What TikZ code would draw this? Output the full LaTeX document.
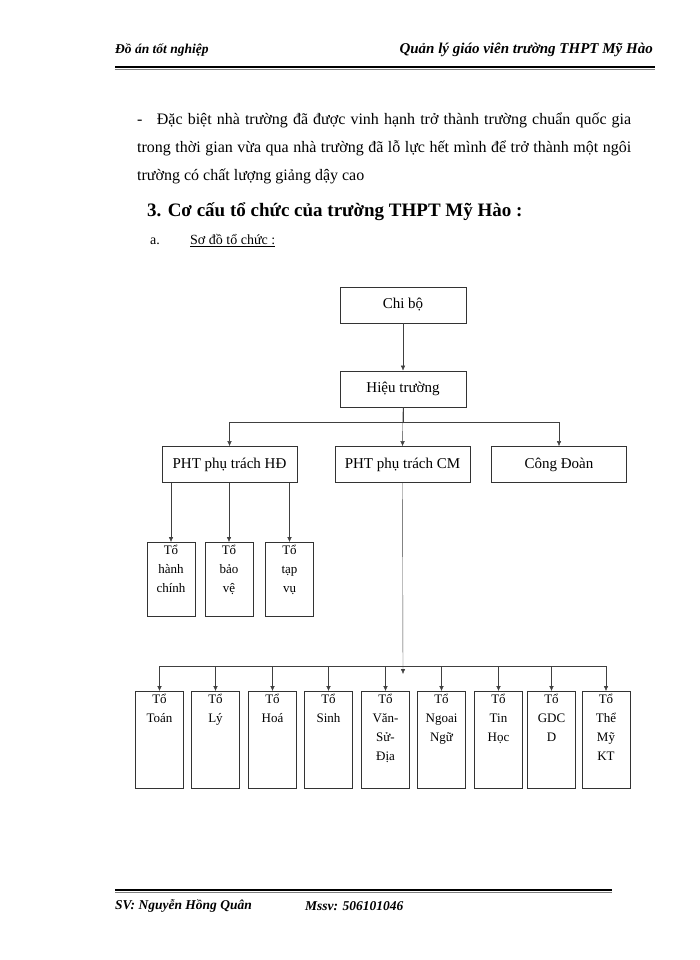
\documentclass[tikz,border=0pt]{standalone}
\usepackage{fontspec}
\setmainfont{Liberation Serif}
\usepackage{tikz}
\usetikzlibrary{arrows.meta,positioning}

\newcommand{\cell}[2]{\parbox[t][#1][t]{44pt}{\centering #2}}

\tikzset{
  box/.style={draw=black!80,thick,minimum width=126pt,minimum height=36pt,inner sep=2pt,font=\fontsize{15}{17}\selectfont},
  tbox/.style={draw=black!80,thick,minimum width=47pt,minimum height=97pt,anchor=north,inner sep=2pt,
    font=\fontsize{13}{19}\selectfont},
  link/.style={draw=black!75,-{Latex[length=5pt,width=4.5pt]}},
  hdr/.style={anchor=west,inner sep=0pt,font=\bfseries\itshape\fontsize{13.5}{15}\selectfont}
}

\begin{document}
\begin{tikzpicture}[x=1pt,y=-1pt]
    \useasboundingbox (0,0) rectangle (700,960);
    % header and footer
    \node[hdr] (hl) at (115,50) {Đồ án tốt nghiệp};
    \node[hdr,anchor=east,font=\bfseries\itshape\fontsize{15}{17}\selectfont] (hr) at (653,50) {Quản lý giáo viên trường THPT Mỹ Hào};
    \draw[line width=2.5pt] (115,67) -- (655,67);
    \draw[black!50,line width=1pt] (115,69.5) -- (655,69.5);
    \draw[line width=2.5pt] (115,890) -- (612,890);
    \draw[black!50,line width=1pt] (115,892.5) -- (612,892.5);
    \node[hdr] (sv) at (115,906) {SV: Nguyễn Hồng Quân};
    \node[hdr] (ms) at (305,906) {Mssv: 506101046};
    % text
    \node[anchor=north west,text width=494pt,align=justify,inner sep=0pt,font=\fontsize{16}{28}\selectfont] (par) at (137,113)
      {-\hspace{0.9em}Đặc biệt nhà trường đã được vinh hạnh trở thành trường chuẩn quốc gia trong thời gian vừa qua nhà trường đã lỗ lực hết mình để trở thành một ngôi trường có chất lượng giảng dậy cao};
    \node[anchor=west,inner sep=0pt,font=\bfseries\fontsize{19}{21}\selectfont] (h3) at (147,212) {3. Cơ cấu tổ chức của trường THPT Mỹ Hào :};
    \node[anchor=west,inner sep=0pt,font=\fontsize{14}{16}\selectfont] (ha) at (150,241) {a.};
    \node[anchor=west,inner sep=0pt,font=\fontsize{14}{16}\selectfont] (hs) at (190,241) {\underline{Sơ đồ tổ chức :}};

    % chart
    \node[box] (chibo) at (403,305) {Chi bộ};
    \node[box] (ht)    at (403,389) {Hiệu trường};
    \node[box,minimum width=135pt] (phthd) at (229.5,464.5) {PHT phụ trách HĐ};
    \node[box,minimum width=135pt] (phtcm) at (402.5,464.5) {PHT phụ trách CM};
    \node[box,minimum width=135pt] (cd)    at (559,464.5) {Công Đoàn};
    \node[tbox,minimum height=74pt] (hc) at (171,542) {\cell{68pt}{Tổ\\hành\\chính}};
    \node[tbox,minimum height=74pt] (bv) at (229,542) {\cell{68pt}{Tổ\\bảo\\vệ}};
    \node[tbox,minimum height=74pt] (tv) at (289.5,542) {\cell{68pt}{Tổ\\tạp\\vụ}};
    \foreach \name/\x/\txt in {toan/159.5/{Tổ\\Toán},ly/215.5/{Tổ\\Lý},hoa/272.5/{Tổ\\Hoá},sinh/328.5/{Tổ\\Sinh},
        van/385.5/{Tổ\\Văn-\\Sử-\\Địa},nn/441.5/{Tổ\\Ngoai\\Ngữ},tin/498.5/{Tổ\\Tin\\Học},gdcd/551.5/{Tổ\\GDC\\D},
        tm/606/{Tổ\\Thể\\Mỹ\\KT}}
      \node[tbox] (\name) at (\x,691) {\cell{91pt}{\txt}};

    \coordinate (j1) at (403,422);
    \coordinate (j2) at (403,666);
    \path[link] (chibo) -- (ht);
    \draw[black!75] (ht.south) -- (j1);
    \draw[black!75] (phthd.north |- j1) -- (cd.north |- j1);
    \path[link] (ht.south) -- (phtcm.north);
    \path[link] (j1 -| phthd.north) -- (phthd.north);
    \path[link] (j1 -| cd.north) -- (cd.north);
    \foreach \t in {hc,bv,tv}
      \path[link] (phthd.south -| \t.north) -- (\t.north);
    \path[link] (phtcm.south) -- ([yshift=-8pt]j2);
    \draw[black!75] (toan.north |- j2) -- (tm.north |- j2);
    \foreach \t in {toan,ly,hoa,sinh,van,nn,tin,gdcd,tm}
      \path[link] (j2 -| \t.north) -- (\t.north);
\end{tikzpicture}
\end{document}
